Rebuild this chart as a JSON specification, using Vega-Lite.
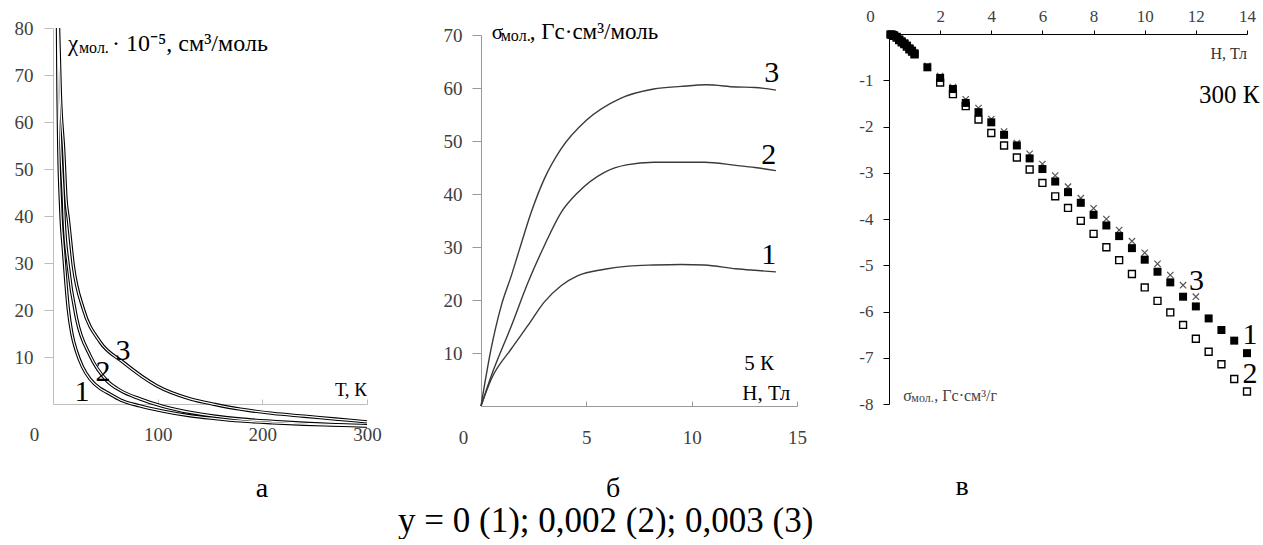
{
  "$schema": "https://vega.github.io/schema/vega-lite/v6.json",
  "padding": {"left": 14, "top": 7, "right": 0, "bottom": 0},
  "bounds": "flush",
  "spacing": 92,
  "config": {
    "view": {"stroke": null},
    "axis": {"grid": false, "labelFont": "Liberation Serif", "labelColor": "#404040", "labelFlush": false, "labelOverlap": false, "title": null},
    "text": {"font": "Liberation Serif", "color": "black"}
  },
  "title": {"text": "y = 0 (1); 0,002 (2); 0,003 (3)", "orient": "bottom", "anchor": "start", "frame": "group", "font": "Liberation Serif", "fontSize": 35, "fontWeight": "normal", "color": "black", "offset": 1, "dx": 345},
  "hconcat": [
    {
      "width": 336,
      "height": 376,
      "title": {"text": "а", "orient": "bottom", "anchor": "middle", "frame": "group", "dx": 41, "offset": 31, "font": "Liberation Serif", "fontSize": 28, "fontWeight": "normal", "color": "black"},
      "layer": [
        {
          "data": {"values": [
            {"s": 1, "T": 4.3, "chi": 80}, {"s": 1, "T": 4.8, "chi": 66}, {"s": 1, "T": 5.6, "chi": 53.6}, {"s": 1, "T": 7.0, "chi": 43.6}, {"s": 1, "T": 7.8, "chi": 39.4}, {"s": 1, "T": 9.9, "chi": 33}, {"s": 1, "T": 14.6, "chi": 20.2}, {"s": 1, "T": 18, "chi": 15}, {"s": 1, "T": 22.6, "chi": 11.1}, {"s": 1, "T": 28, "chi": 8}, {"s": 1, "T": 35.4, "chi": 5.3}, {"s": 1, "T": 45, "chi": 3.3}, {"s": 1, "T": 51.3, "chi": 2.5}, {"s": 1, "T": 65, "chi": 0.8}, {"s": 1, "T": 83, "chi": -0.4}, {"s": 1, "T": 105, "chi": -1.5}, {"s": 1, "T": 131, "chi": -2.5}, {"s": 1, "T": 155, "chi": -3.1}, {"s": 1, "T": 179, "chi": -3.6}, {"s": 1, "T": 210, "chi": -4.0}, {"s": 1, "T": 240, "chi": -4.3}, {"s": 1, "T": 270, "chi": -4.5}, {"s": 1, "T": 300, "chi": -4.7},
            {"s": 2, "T": 4.8, "chi": 80}, {"s": 2, "T": 5.8, "chi": 66}, {"s": 2, "T": 7.6, "chi": 53.6}, {"s": 2, "T": 9.9, "chi": 43.6}, {"s": 2, "T": 10.6, "chi": 39.4}, {"s": 2, "T": 14.6, "chi": 29.4}, {"s": 2, "T": 22.6, "chi": 18.1}, {"s": 2, "T": 35.4, "chi": 10.3}, {"s": 2, "T": 51.3, "chi": 5.0}, {"s": 2, "T": 65, "chi": 2.8}, {"s": 2, "T": 83, "chi": 1.1}, {"s": 2, "T": 105, "chi": -0.5}, {"s": 2, "T": 131, "chi": -1.8}, {"s": 2, "T": 155, "chi": -2.6}, {"s": 2, "T": 179, "chi": -3.2}, {"s": 2, "T": 210, "chi": -3.7}, {"s": 2, "T": 240, "chi": -4.1}, {"s": 2, "T": 270, "chi": -4.4}, {"s": 2, "T": 300, "chi": -4.6},
            {"s": 3, "T": 5.3, "chi": 80}, {"s": 3, "T": 7.0, "chi": 66}, {"s": 3, "T": 10.3, "chi": 53.6}, {"s": 3, "T": 12.4, "chi": 43.6}, {"s": 3, "T": 14.6, "chi": 39.4}, {"s": 3, "T": 19.4, "chi": 29.4}, {"s": 3, "T": 29, "chi": 20.2}, {"s": 3, "T": 45, "chi": 13.2}, {"s": 3, "T": 67, "chi": 8.9}, {"s": 3, "T": 99, "chi": 3.9}, {"s": 3, "T": 131, "chi": 1.1}, {"s": 3, "T": 155, "chi": -0.1}, {"s": 3, "T": 179, "chi": -1.1}, {"s": 3, "T": 210, "chi": -2.0}, {"s": 3, "T": 240, "chi": -2.6}, {"s": 3, "T": 270, "chi": -3.2}, {"s": 3, "T": 300, "chi": -3.8}
          ]},
          "layer": [
            {
              "mark": {"type": "line", "color": "black", "strokeWidth": 3.4, "interpolate": "monotone"},
              "encoding": {
                "x": {"field": "T", "type": "quantitative", "scale": {"domain": [0, 300], "range": [0, 314], "nice": false, "zero": false},
                  "axis": {"values": [0, 100, 200, 300], "domainColor": "#bdbdbd", "tickColor": "#bdbdbd", "tickSize": -5, "labelPadding": 26, "labelFontSize": 19, "labelOffset": {"condition": {"test": "datum.value === 0", "value": -19}, "value": 0}}},
                "y": {"field": "chi", "type": "quantitative", "scale": {"domain": [0, 80], "nice": false, "zero": false},
                  "axis": {"values": [10, 20, 30, 40, 50, 60, 70, 80], "domainColor": "#bdbdbd", "tickColor": "#bdbdbd", "tickSize": 9, "labelPadding": 11, "labelFontSize": 19}},
                "detail": {"field": "s", "type": "nominal"}
              }
            },
            {
              "mark": {"type": "line", "color": "white", "strokeWidth": 1.2, "interpolate": "monotone"},
              "encoding": {
                "x": {"field": "T", "type": "quantitative"},
                "y": {"field": "chi", "type": "quantitative"},
                "detail": {"field": "s", "type": "nominal"}
              }
            }
          ]
        },
        {
          "data": {"values": [{"T": 27.7, "chi": 2.55, "t": "1"}, {"T": 47.8, "chi": 6.8, "t": "2"}, {"T": 66.9, "chi": 11.3, "t": "3"}]},
          "mark": {"type": "text", "fontSize": 30, "align": "center", "baseline": "middle"},
          "encoding": {"x": {"field": "T", "type": "quantitative"}, "y": {"field": "chi", "type": "quantitative"}, "text": {"field": "t"}}
        },
        {
          "data": {"values": [{"T": 300, "chi": 3.0, "t": "Т, К"}]},
          "mark": {"type": "text", "fontSize": 19, "align": "right", "baseline": "middle"},
          "encoding": {"x": {"field": "T", "type": "quantitative"}, "y": {"field": "chi", "type": "quantitative"}, "text": {"field": "t"}}
        },
        {
          "data": {"values": [{"T": 14.3, "chi": 75.1, "t": "χ"}]},
          "mark": {"type": "text", "fontSize": 23, "align": "left", "baseline": "alphabetic"},
          "encoding": {"x": {"field": "T", "type": "quantitative"}, "y": {"field": "chi", "type": "quantitative"}, "text": {"field": "t"}}
        },
        {
          "data": {"values": [{"T": 14.3, "chi": 75.1, "t": "мол."}]},
          "mark": {"type": "text", "fontSize": 16, "align": "left", "baseline": "alphabetic", "dx": 11, "dy": 2},
          "encoding": {"x": {"field": "T", "type": "quantitative"}, "y": {"field": "chi", "type": "quantitative"}, "text": {"field": "t"}}
        },
        {
          "data": {"values": [{"T": 14.3, "chi": 75.1, "t": "· 10⁻⁵, см³/моль"}]},
          "mark": {"type": "text", "fontSize": 24, "align": "left", "baseline": "alphabetic", "dx": 44},
          "encoding": {"x": {"field": "T", "type": "quantitative"}, "y": {"field": "chi", "type": "quantitative"}, "text": {"field": "t"}}
        }
      ]
    },
    {
      "width": 316,
      "height": 376,
      "title": {"text": "б", "orient": "bottom", "anchor": "middle", "frame": "group", "dx": -26, "offset": 28, "font": "Liberation Serif", "fontSize": 28, "fontWeight": "normal", "color": "black"},
      "layer": [
        {
          "data": {"values": [
            {"s": 1, "H": 0, "m": 0}, {"s": 1, "H": 0.49, "m": 5.1}, {"s": 1, "H": 1.44, "m": 10.8}, {"s": 1, "H": 2.23, "m": 15.2}, {"s": 1, "H": 3.0, "m": 19.6}, {"s": 1, "H": 3.8, "m": 22.7}, {"s": 1, "H": 4.6, "m": 24.6}, {"s": 1, "H": 5.86, "m": 25.8}, {"s": 1, "H": 7, "m": 26.4}, {"s": 1, "H": 8.2, "m": 26.6}, {"s": 1, "H": 9.5, "m": 26.7}, {"s": 1, "H": 10.6, "m": 26.6}, {"s": 1, "H": 12.1, "m": 25.9}, {"s": 1, "H": 13, "m": 25.6}, {"s": 1, "H": 14, "m": 25.3},
            {"s": 2, "H": 0, "m": 0}, {"s": 2, "H": 0.49, "m": 5.7}, {"s": 2, "H": 1.44, "m": 15.1}, {"s": 2, "H": 2.23, "m": 23.3}, {"s": 2, "H": 3.0, "m": 30.2}, {"s": 2, "H": 3.8, "m": 36.5}, {"s": 2, "H": 4.6, "m": 40.3}, {"s": 2, "H": 5.86, "m": 44.1}, {"s": 2, "H": 6.9, "m": 45.5}, {"s": 2, "H": 8.2, "m": 46.0}, {"s": 2, "H": 10.6, "m": 46.0}, {"s": 2, "H": 12.1, "m": 45.4}, {"s": 2, "H": 13, "m": 45.0}, {"s": 2, "H": 14, "m": 44.4},
            {"s": 3, "H": 0, "m": 0}, {"s": 3, "H": 0.49, "m": 11}, {"s": 3, "H": 0.96, "m": 18.9}, {"s": 3, "H": 1.44, "m": 24.6}, {"s": 3, "H": 1.83, "m": 29.6}, {"s": 3, "H": 2.38, "m": 36.5}, {"s": 3, "H": 3.0, "m": 42.8}, {"s": 3, "H": 3.8, "m": 48.5}, {"s": 3, "H": 5.0, "m": 53.9}, {"s": 3, "H": 6.6, "m": 58}, {"s": 3, "H": 8.2, "m": 59.8}, {"s": 3, "H": 9.5, "m": 60.3}, {"s": 3, "H": 10.7, "m": 60.6}, {"s": 3, "H": 12.1, "m": 60.2}, {"s": 3, "H": 13, "m": 60.1}, {"s": 3, "H": 14, "m": 59.6}
          ]},
          "mark": {"type": "line", "color": "#3a3a3a", "strokeWidth": 1.4, "interpolate": "monotone"},
          "encoding": {
            "x": {"field": "H", "type": "quantitative", "scale": {"domain": [0, 15], "nice": false, "zero": false},
              "axis": {"values": [0, 5, 10, 15], "offset": 2, "domainColor": "#9a9a9a", "tickColor": "#9a9a9a", "tickSize": -5, "labelPadding": 27, "labelFontSize": 19, "labelOffset": {"condition": {"test": "datum.value === 0", "value": -18}, "value": 0}}},
            "y": {"field": "m", "type": "quantitative", "scale": {"domain": [0, 70], "range": [378, 7], "nice": false, "zero": false},
              "axis": {"values": [10, 20, 30, 40, 50, 60, 70], "domainColor": "#9a9a9a", "tickColor": "#9a9a9a", "tickSize": 9, "labelPadding": 10, "labelFontSize": 19}},
            "detail": {"field": "s", "type": "nominal"}
          }
        },
        {
          "data": {"values": [{"H": 13.8, "m": 62.8, "t": "3"}, {"H": 13.66, "m": 47.4, "t": "2"}, {"H": 13.66, "m": 28.4, "t": "1"}]},
          "mark": {"type": "text", "fontSize": 30, "align": "center", "baseline": "middle"},
          "encoding": {"x": {"field": "H", "type": "quantitative"}, "y": {"field": "m", "type": "quantitative"}, "text": {"field": "t"}}
        },
        {
          "data": {"values": [{"H": 13.2, "m": 7.9, "t": "5 К"}, {"H": 13.54, "m": 2.26, "t": "Н, Тл"}]},
          "mark": {"type": "text", "fontSize": 21, "align": "center", "baseline": "middle"},
          "encoding": {"x": {"field": "H", "type": "quantitative"}, "y": {"field": "m", "type": "quantitative"}, "text": {"field": "t"}}
        },
        {
          "data": {"values": [{"H": 0.51, "m": 69.2, "t": "σ"}]},
          "mark": {"type": "text", "fontSize": 21, "align": "left", "baseline": "alphabetic"},
          "encoding": {"x": {"field": "H", "type": "quantitative"}, "y": {"field": "m", "type": "quantitative"}, "text": {"field": "t"}}
        },
        {
          "data": {"values": [{"H": 0.51, "m": 69.2, "t": "мол."}]},
          "mark": {"type": "text", "fontSize": 16, "align": "left", "baseline": "alphabetic", "dx": 9, "dy": 2},
          "encoding": {"x": {"field": "H", "type": "quantitative"}, "y": {"field": "m", "type": "quantitative"}, "text": {"field": "t"}}
        },
        {
          "data": {"values": [{"H": 0.51, "m": 69.2, "t": ", Гс·см³/моль"}]},
          "mark": {"type": "text", "fontSize": 23, "align": "left", "baseline": "alphabetic", "dx": 38},
          "encoding": {"x": {"field": "H", "type": "quantitative"}, "y": {"field": "m", "type": "quantitative"}, "text": {"field": "t"}}
        }
      ]
    },
    {
      "width": 358,
      "height": 376,
      "title": {"text": "в", "orient": "bottom", "anchor": "middle", "frame": "group", "dx": -106, "offset": 61, "font": "Liberation Serif", "fontSize": 28, "fontWeight": "normal", "color": "black"},
      "layer": [
        {
          "data": {"values": [
            {"H": 0.1, "v": -0.02}, {"H": 0.2, "v": -0.04}, {"H": 0.3, "v": -0.08}, {"H": 0.4, "v": -0.13}, {"H": 0.5, "v": -0.18}, {"H": 0.6, "v": -0.22}, {"H": 0.7, "v": -0.27}, {"H": 0.8, "v": -0.33}, {"H": 0.9, "v": -0.38}, {"H": 1.0, "v": -0.44},
            {"H": 2, "v": -1.05}, {"H": 2.5, "v": -1.30}, {"H": 3, "v": -1.56}, {"H": 3.5, "v": -1.85}, {"H": 4, "v": -2.14}, {"H": 4.5, "v": -2.41}, {"H": 5, "v": -2.67}, {"H": 5.5, "v": -2.93}, {"H": 6, "v": -3.22}, {"H": 6.5, "v": -3.51}, {"H": 7, "v": -3.76}, {"H": 7.5, "v": -4.04}, {"H": 8, "v": -4.32}, {"H": 8.5, "v": -4.61}, {"H": 9, "v": -4.89}, {"H": 9.5, "v": -5.19}, {"H": 10, "v": -5.48}, {"H": 10.5, "v": -5.77}, {"H": 11, "v": -6.02}, {"H": 11.5, "v": -6.29}, {"H": 12, "v": -6.59}, {"H": 12.5, "v": -6.87}, {"H": 13, "v": -7.14}, {"H": 13.5, "v": -7.46}, {"H": 14, "v": -7.73}
          ]},
          "mark": {"type": "point", "shape": "square", "filled": true, "fill": "white", "stroke": "black", "strokeWidth": 1.4, "size": 48, "opacity": 1},
          "encoding": {
            "x": {"field": "H", "type": "quantitative", "scale": {"domain": [0, 14], "nice": false, "zero": false},
              "axis": {"orient": "top", "offset": -6, "values": [0, 2, 4, 6, 8, 10, 12, 14], "domainColor": "black", "tickColor": "black", "tickSize": 4, "labelPadding": 5, "labelFontSize": 17, "labelOffset": {"condition": {"test": "datum.value === 0", "value": -19}, "value": 0}}},
            "y": {"field": "v", "type": "quantitative", "scale": {"domain": [-8, 0], "range": [376, 6], "nice": false, "zero": false},
              "axis": {"values": [-1, -2, -3, -4, -5, -6, -7, -8], "labelExpr": "'-' + (-datum.value)", "domainColor": "black", "tickColor": "black", "tickSize": 6, "labelPadding": 10, "labelFontSize": 17}}
          }
        },
        {
          "data": {"values": [
            {"H": 0.1, "v": -0.01}, {"H": 0.2, "v": -0.03}, {"H": 0.3, "v": -0.06}, {"H": 0.4, "v": -0.11}, {"H": 0.5, "v": -0.15}, {"H": 0.6, "v": -0.2}, {"H": 0.7, "v": -0.25}, {"H": 0.8, "v": -0.3}, {"H": 0.9, "v": -0.35}, {"H": 1.0, "v": -0.4},
            {"H": 1.5, "v": -0.69}, {"H": 2, "v": -0.91}, {"H": 2.5, "v": -1.15}, {"H": 3, "v": -1.41}, {"H": 3.5, "v": -1.60}, {"H": 4, "v": -1.84}, {"H": 4.5, "v": -2.11}, {"H": 5, "v": -2.36}, {"H": 5.5, "v": -2.59}, {"H": 6, "v": -2.81}, {"H": 6.5, "v": -3.06}, {"H": 7, "v": -3.30}, {"H": 7.5, "v": -3.55}, {"H": 8, "v": -3.77}, {"H": 8.5, "v": -4.0}, {"H": 9, "v": -4.24}, {"H": 9.5, "v": -4.48}, {"H": 10, "v": -4.73}, {"H": 10.5, "v": -4.97}, {"H": 11, "v": -5.21}, {"H": 11.5, "v": -5.43}, {"H": 12, "v": -5.68}
          ]},
          "mark": {"type": "point", "shape": "M-1,-1L1,1M-1,1L1,-1", "filled": false, "stroke": "#555555", "strokeWidth": 1.2, "size": 40, "opacity": 1},
          "encoding": {"x": {"field": "H", "type": "quantitative"}, "y": {"field": "v", "type": "quantitative"}}
        },
        {
          "data": {"values": [
            {"H": 0.05, "v": -0.01}, {"H": 0.1, "v": -0.01}, {"H": 0.15, "v": -0.02}, {"H": 0.2, "v": -0.03}, {"H": 0.3, "v": -0.06}, {"H": 0.4, "v": -0.12}, {"H": 0.5, "v": -0.16}, {"H": 0.6, "v": -0.2}, {"H": 0.7, "v": -0.25}, {"H": 0.8, "v": -0.31}, {"H": 0.9, "v": -0.36}, {"H": 1.0, "v": -0.42},
            {"H": 1.5, "v": -0.72}, {"H": 2, "v": -0.95}, {"H": 2.5, "v": -1.19}, {"H": 3, "v": -1.49}, {"H": 3.5, "v": -1.69}, {"H": 4, "v": -1.91}, {"H": 4.5, "v": -2.18}, {"H": 5, "v": -2.41}, {"H": 5.5, "v": -2.69}, {"H": 6, "v": -2.92}, {"H": 6.5, "v": -3.19}, {"H": 7, "v": -3.42}, {"H": 7.5, "v": -3.65}, {"H": 8, "v": -3.91}, {"H": 8.5, "v": -4.14}, {"H": 9, "v": -4.37}, {"H": 9.5, "v": -4.63}, {"H": 10, "v": -4.88}, {"H": 10.5, "v": -5.14}, {"H": 11, "v": -5.37}, {"H": 11.5, "v": -5.68}, {"H": 12, "v": -5.89}, {"H": 12.5, "v": -6.15}, {"H": 13, "v": -6.40}, {"H": 13.5, "v": -6.63}, {"H": 14, "v": -6.90}
          ]},
          "mark": {"type": "point", "shape": "square", "filled": true, "color": "black", "size": 64, "opacity": 1},
          "encoding": {"x": {"field": "H", "type": "quantitative"}, "y": {"field": "v", "type": "quantitative"}}
        },
        {
          "data": {"values": [{"H": 12.03, "v": -5.33, "t": "3"}, {"H": 14.12, "v": -6.51, "t": "1"}, {"H": 14.12, "v": -7.35, "t": "2"}]},
          "mark": {"type": "text", "fontSize": 30, "align": "center", "baseline": "middle"},
          "encoding": {"x": {"field": "H", "type": "quantitative"}, "y": {"field": "v", "type": "quantitative"}, "text": {"field": "t"}}
        },
        {
          "data": {"values": [{"H": 13.3, "v": -1.32, "t": "300 К"}]},
          "mark": {"type": "text", "fontSize": 25, "align": "center", "baseline": "middle"},
          "encoding": {"x": {"field": "H", "type": "quantitative"}, "y": {"field": "v", "type": "quantitative"}, "text": {"field": "t"}}
        },
        {
          "data": {"values": [{"H": 14, "v": -0.43, "t": "Н, Тл"}]},
          "mark": {"type": "text", "fontSize": 16, "align": "right", "baseline": "middle", "color": "#333333"},
          "encoding": {"x": {"field": "H", "type": "quantitative"}, "y": {"field": "v", "type": "quantitative"}, "text": {"field": "t"}}
        },
        {
          "data": {"values": [{"H": 0.56, "v": -7.93, "t": "σ"}]},
          "mark": {"type": "text", "fontSize": 16, "align": "left", "baseline": "alphabetic", "color": "#444444"},
          "encoding": {"x": {"field": "H", "type": "quantitative"}, "y": {"field": "v", "type": "quantitative"}, "text": {"field": "t"}}
        },
        {
          "data": {"values": [{"H": 0.56, "v": -7.93, "t": "мол."}]},
          "mark": {"type": "text", "fontSize": 12, "align": "left", "baseline": "alphabetic", "dx": 8, "dy": 1, "color": "#444444"},
          "encoding": {"x": {"field": "H", "type": "quantitative"}, "y": {"field": "v", "type": "quantitative"}, "text": {"field": "t"}}
        },
        {
          "data": {"values": [{"H": 0.56, "v": -7.93, "t": ", Гс·см³/г"}]},
          "mark": {"type": "text", "fontSize": 16, "align": "left", "baseline": "alphabetic", "dx": 31, "color": "#444444"},
          "encoding": {"x": {"field": "H", "type": "quantitative"}, "y": {"field": "v", "type": "quantitative"}, "text": {"field": "t"}}
        }
      ]
    }
  ]
}
